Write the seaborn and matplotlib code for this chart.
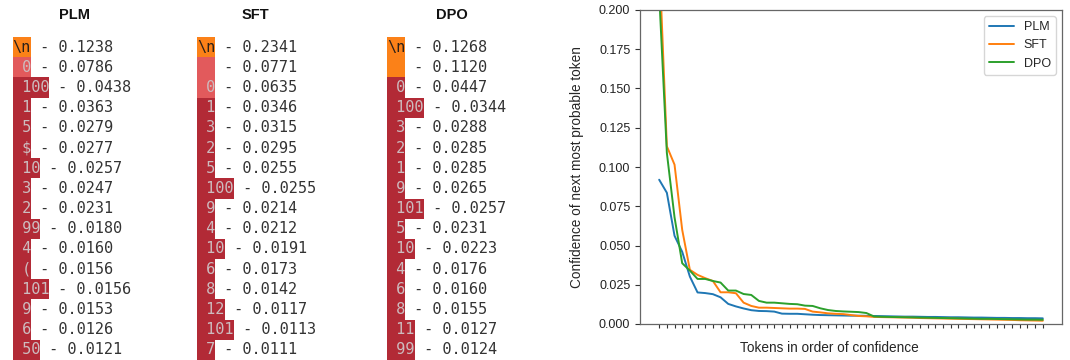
import numpy as np
import matplotlib
matplotlib.use("Agg")
import matplotlib.pyplot as plt
import seaborn as sns

# top-16 next-token lists per model
plm_tokens = ["\\n", " 0", " 100", " 1", " 5", " $", " 10", " 3", " 2", " 99", " 4", " (", " 101", " 9", " 6", " 50"]
plm_probs = [0.1238, 0.0786, 0.0438, 0.0363, 0.0279, 0.0277, 0.0257, 0.0247, 0.0231, 0.0180, 0.0160, 0.0156, 0.0156, 0.0153, 0.0126, 0.0121]
sft_tokens = ["\\n", "  ", " 0", " 1", " 3", " 2", " 5", " 100", " 9", " 4", " 10", " 6", " 8", " 12", " 101", " 7"]
sft_probs = [0.2341, 0.0771, 0.0635, 0.0346, 0.0315, 0.0295, 0.0255, 0.0255, 0.0214, 0.0212, 0.0191, 0.0173, 0.0142, 0.0117, 0.0113, 0.0111]
dpo_tokens = ["\\n", "  ", " 0", " 100", " 3", " 2", " 1", " 9", " 101", " 5", " 10", " 4", " 6", " 8", " 11", " 99"]
dpo_probs = [0.1268, 0.1120, 0.0447, 0.0344, 0.0288, 0.0285, 0.0285, 0.0265, 0.0257, 0.0231, 0.0223, 0.0176, 0.0160, 0.0155, 0.0127, 0.0124]

# averaged confidence curves (top 51 ranks)
plm_curve = [0.0919, 0.0836, 0.0562, 0.0460, 0.0302, 0.0201, 0.0197, 0.0190, 0.0170, 0.0128,
             0.0112, 0.0099, 0.0088, 0.0083, 0.0082, 0.0079, 0.0066, 0.0065, 0.0065, 0.0062,
             0.0059, 0.0057, 0.0056, 0.0055, 0.0054, 0.0053, 0.0053, 0.0052, 0.0051, 0.0050,
             0.0049, 0.0048, 0.0047, 0.0047, 0.0046, 0.0045, 0.0045, 0.0044, 0.0043, 0.0043,
             0.0042, 0.0041, 0.0041, 0.0040, 0.0039, 0.0039, 0.0038, 0.0038, 0.0037, 0.0037, 0.0036]
sft_curve = [0.2340, 0.1132, 0.1015, 0.0600, 0.0345, 0.0313, 0.0292, 0.0274, 0.0202, 0.0202,
             0.0196, 0.0136, 0.0115, 0.0104, 0.0104, 0.0102, 0.0100, 0.0098, 0.0098, 0.0096,
             0.0079, 0.0074, 0.0068, 0.0065, 0.0063, 0.0057, 0.0051, 0.0049, 0.0045, 0.0044,
             0.0043, 0.0042, 0.0041, 0.0040, 0.0038, 0.0037, 0.0036, 0.0035, 0.0034, 0.0033,
             0.0032, 0.0031, 0.0030, 0.0029, 0.0028, 0.0027, 0.0026, 0.0024, 0.0023, 0.0022, 0.0021]
dpo_curve = [0.2100, 0.1090, 0.0680, 0.0387, 0.0340, 0.0287, 0.0287, 0.0274, 0.0264, 0.0213,
             0.0213, 0.0191, 0.0185, 0.0147, 0.0136, 0.0136, 0.0132, 0.0128, 0.0126, 0.0117,
             0.0115, 0.0100, 0.0089, 0.0083, 0.0080, 0.0078, 0.0076, 0.0070, 0.0048, 0.0046,
             0.0045, 0.0044, 0.0043, 0.0042, 0.0041, 0.0040, 0.0039, 0.0038, 0.0037, 0.0036,
             0.0035, 0.0034, 0.0033, 0.0033, 0.0032, 0.0031, 0.0030, 0.0029, 0.0028, 0.0028, 0.0027]

models = ["PLM", "SFT", "DPO"]

sns.set_style("ticks")
plt.rcParams['font.family'] = ['Liberation Sans', 'DejaVu Sans']

W, H = 1070, 360
fig = plt.figure(figsize=(W / 100, H / 100), dpi=100)

# ---- token panels ----
mono_fs = 11
char_px = 0.602 * mono_fs * 100 / 72


def token_color(p):
    if p >= 0.1:
        return "#fb8118"
    if p >= 0.05:
        return "#e25a5c"
    return "#b22a36"


panels = [("PLM", plm_tokens, plm_probs, 12.7, 74),
          ("SFT", sft_tokens, sft_probs, 197, 255),
          ("DPO", dpo_tokens, dpo_probs, 387, 452)]

for name, toks, probs, left_px, title_px in panels:
    ax = fig.add_axes([left_px / W, 0, 175 / W, (H - 37) / H])
    rows = np.arange(len(toks))
    widths = [len(t) for t in toks]
    cols = [token_color(p) for p in probs]
    ax.barh(rows, widths, height=1.0, left=0, color=cols, linewidth=0)
    for r, t, p in zip(rows, toks, probs):
        tc = "#2b2018" if p >= 0.1 else "#cdbcbf"
        ax.text(0, r, t, family="DejaVu Sans Mono", fontsize=mono_fs,
                color=tc, va="center", ha="left")
        ax.text(len(t), r, f" - {p:.4f}", family="DejaVu Sans Mono",
                fontsize=mono_fs, color="#333333", va="center", ha="left")
    ax.set_xlim(0, 175 / char_px)
    ax.set_ylim(len(toks) - 0.5, -0.5)
    ax.axis("off")
    fig.text(title_px / W, 1 - 15 / H, name, ha="center", va="center",
             fontsize=10.5, fontweight="bold", color="#111111")

# ---- confidence curves ----
ax = fig.add_axes([640 / W, 36 / H, 422 / W, 314 / H])
xs = np.arange(len(plm_curve))
palette = sns.color_palette("tab10", 3)
for name, curve, c in zip(models, [plm_curve, sft_curve, dpo_curve], palette):
    sns.lineplot(x=xs, y=curve, label=name, color=c, linewidth=1.4, ax=ax)

ax.set_ylim(0, 0.2)
ax.set_yticks(np.arange(0, 0.2001, 0.025))
ax.set_yticklabels([f"{v:.3f}" for v in np.arange(0, 0.2001, 0.025)])
ax.set_xticks(xs)
ax.set_xticklabels([])
ax.tick_params(axis="x", length=3, width=0.8, color="#333333")
ax.tick_params(axis="y", length=3.5, width=0.8, color="#333333", labelsize=9, labelcolor="#222222")
for s in ax.spines.values():
    s.set_color("#666666")
    s.set_linewidth(0.9)
ax.set_xlabel("Tokens in order of confidence", fontsize=9.8)
ax.xaxis.set_label_coords(0.448, -0.055)
ax.set_ylabel("Confidence of next most probable token", fontsize=9.8, labelpad=11)
ax.legend(loc="upper right", fontsize=9, frameon=True)

fig.savefig("out.png", dpi=100)
